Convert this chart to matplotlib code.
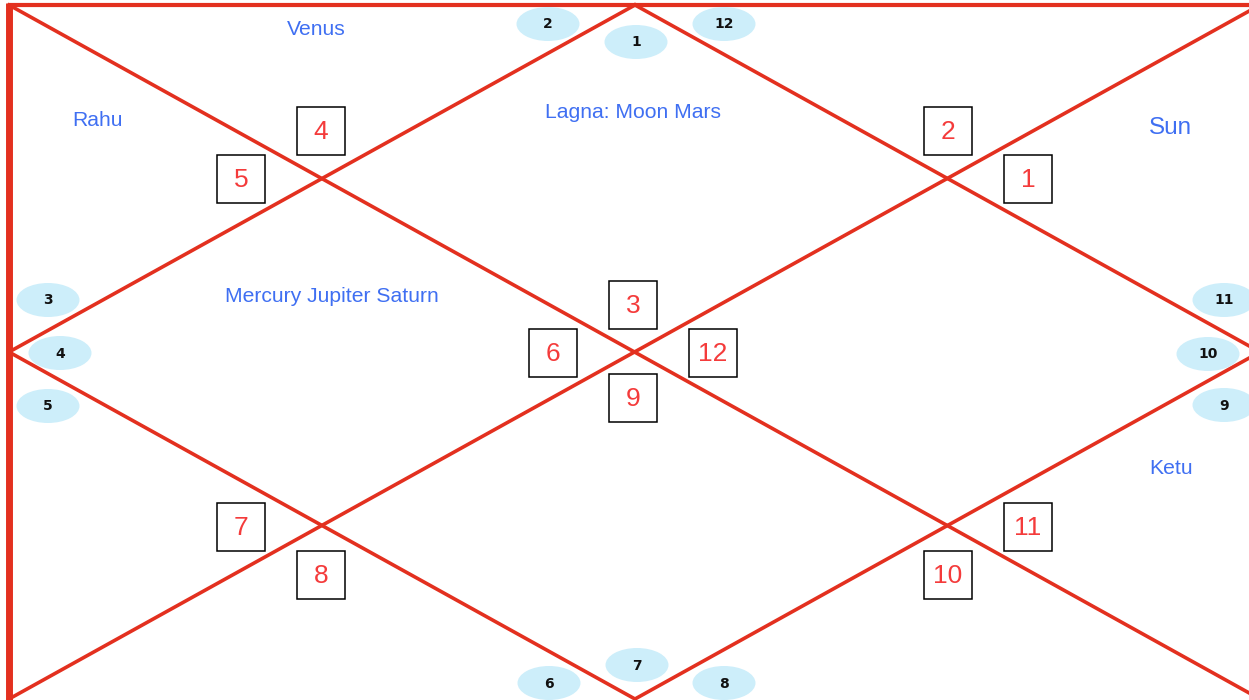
import matplotlib
matplotlib.use("Agg")
import matplotlib.pyplot as plt
from matplotlib.patches import Rectangle, Ellipse

# ---- data ----
houses = [1, 2, 3, 4, 5, 6, 7, 8, 9, 10, 11, 12]
signs = [3, 4, 5, 6, 7, 8, 9, 10, 11, 12, 1, 2]
planet_houses = [1, 2, 3, 4, 9, 11]
planet_labels = ["Lagna: Moon Mars", "Venus", "Rahu", "Mercury Jupiter Saturn", "Ketu", "Sun"]

# ---- layout (pixel coordinates) ----
W, H = 1249, 700
X0, X1, Y0, Y1 = 9, 1260, 5, 699
XC, YC = 635, (Y0 + Y1) / 2

house_badge_pos = {1: (636, 42), 2: (548, 24), 3: (48, 300), 4: (60, 353), 5: (48, 406),
                   6: (549, 683), 7: (637, 665), 8: (724, 683), 9: (1224, 405),
                   10: (1208, 354), 11: (1224, 300), 12: (724, 24)}
sign_box_pos = {1: (633, 305), 2: (321, 131), 3: (241, 179), 4: (553, 353), 5: (241, 527),
                6: (321, 575), 7: (633, 398), 8: (948, 575), 9: (1028, 527),
                10: (713, 353), 11: (1028, 179), 12: (948, 131)}
planet_pos = {1: (633, 118), 2: (316, 35), 3: (98, 126), 4: (332, 302), 9: (1171, 474), 11: (1170, 134)}
planet_size = {1: 15.2, 2: 15.2, 3: 15.2, 4: 15.2, 9: 15.2, 11: 17.5}

RED = "#e3301f"
BLUE = "#3f6ff2"
NUMRED = "#f43b3b"
BADGE = "#cdeefa"

fig = plt.figure(figsize=(W / 100, H / 100), dpi=100)
ax = fig.add_axes([0, 0, 1, 1])
ax.set_xlim(0, W)
ax.set_ylim(H, 0)
ax.axis("off")

lw = 2.6
# frame (top and left edges visible)
ax.plot([X0, X1], [Y0, Y0], color=RED, lw=3.0, solid_capstyle="butt")
ax.plot([X0, X0], [Y0 - 2, Y1 + 2], color=RED, lw=5.0, solid_capstyle="butt")
# diagonals
ax.plot([X0, X1], [Y0, Y1], color=RED, lw=lw)
ax.plot([X0, X1], [Y1, Y0], color=RED, lw=lw)
# inner diamond
ax.plot([XC, X1, XC, X0, XC], [Y0, YC, Y1, YC, Y0], color=RED, lw=lw)

# house badges
for h in houses:
    x, y = house_badge_pos[h]
    ax.add_patch(Ellipse((x, y), 63, 34, facecolor=BADGE, edgecolor="none", zorder=3))
    ax.text(x, y + 0.5, str(h), ha="center", va="center", fontsize=10,
            fontweight="bold", family="DejaVu Sans", color="#111111", zorder=4)

# sign boxes
bs = 48
for h, s in zip(houses, signs):
    x, y = sign_box_pos[h]
    ax.add_patch(Rectangle((x - bs / 2, y - bs / 2), bs, bs, facecolor="white",
                           edgecolor="black", lw=1.1, zorder=3))
    ax.text(x, y + 1, str(s), ha="center", va="center", fontsize=19,
            family="Liberation Sans", color=NUMRED, zorder=4)

# planets
for h, lab in zip(planet_houses, planet_labels):
    x, y = planet_pos[h]
    ax.text(x, y, lab, ha="center", va="baseline", fontsize=planet_size[h],
            family="Liberation Sans", color=BLUE, zorder=4)

fig.savefig("out.png", dpi=100, facecolor="white")
